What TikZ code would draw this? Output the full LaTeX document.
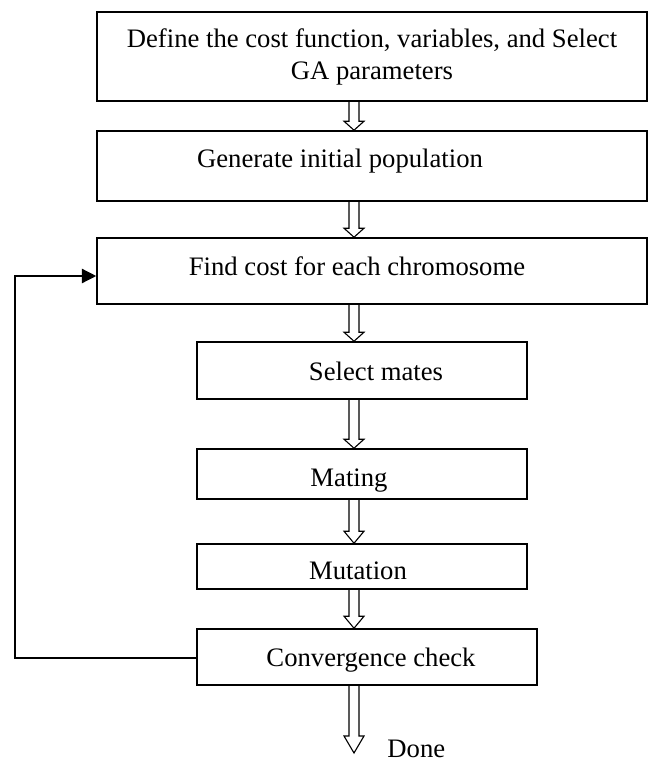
\documentclass[tikz,border=0pt]{standalone}
\usepackage{fontspec}
\setmainfont{Liberation Serif}
\usetikzlibrary{arrows.meta,calc,fit}
\tikzset{>={Triangle[length=6.5pt,width=6.5pt]}}
\tikzset{box/.style={draw, line width=0.7pt, inner sep=0pt},
lbl/.style={font=\fontsize{12}{14.2}\selectfont, inner sep=0pt}}
\newcommand{\hollowarrow}[3]{\draw[line width=0.5pt] ($(#1)+(-5,0)$) -- ($(#2)+(-5,-#3)$) -- ++(-5,0) -- (#2) -- ++(10,-#3) -- ++(-5,0) -- ($(#1)+(5,0)$);}

\begin{document}
\begin{tikzpicture}[x=0.45pt, y=-0.45pt]
\useasboundingbox (0,0) rectangle (648,760);
\node[box, fit={(97,12) (647,101)}] (define) {};
\node[box, fit={(97,131) (647,201)}] (gen) {};
\node[box, fit={(97,238) (647,304)}] (cost) {};
\node[box, fit={(197,342) (527,399)}] (select) {};
\node[box, fit={(197,449) (527,499)}] (mating) {};
\node[box, fit={(197,544) (527,589)}] (mutation) {};
\node[box, fit={(197,629) (537,685)}] (conv) {};
\node[lbl, align=center] (define-t) at (372,57) {Define the cost function, variables, and Select\\GA parameters};
\node[lbl, anchor=base] (gen-t) at (340,167) {Generate initial population};
\node[lbl, anchor=base] (cost-t) at (357,275) {Find cost for each chromosome};
\node[lbl, anchor=base] (select-t) at (376,380) {Select mates};
\node[lbl, anchor=base] (mating-t) at (349,486) {Mating};
\node[lbl, anchor=base] (mutation-t) at (358,579) {Mutation};
\node[lbl, anchor=base] (conv-t) at (371,666) {Convergence check};
\node[lbl, anchor=base west] (done) at (387,757) {Done};
\coordinate (ax) at (354,0);
\coordinate (end) at (354,753);
\hollowarrow{ax |- define.south}{ax |- gen.north}{9}
\hollowarrow{ax |- gen.south}{ax |- cost.north}{9}
\hollowarrow{ax |- cost.south}{ax |- select.north}{9}
\hollowarrow{ax |- select.south}{ax |- mating.north}{9}
\hollowarrow{ax |- mating.south}{ax |- mutation.north}{12}
\hollowarrow{ax |- mutation.south}{ax |- conv.north}{12}
\hollowarrow{ax |- conv.south}{end}{17}
\coordinate (LB) at (15,658);
\coordinate (LT) at (15,276);
\draw[->, line width=0.6pt] (conv.west |- LB) -- (LB) -- (LT) -- (cost.west |- LT);
\end{tikzpicture}
\end{document}
